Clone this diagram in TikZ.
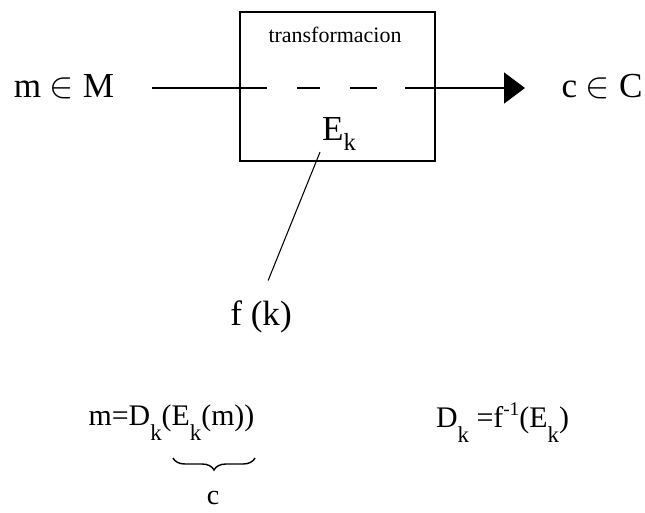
\documentclass[tikz,border=0pt]{standalone}
\usepackage{fontspec}
\setmainfont{Liberation Serif}
\usepackage{tikz}
\usetikzlibrary{arrows.meta, decorations.pathreplacing}
\newcommand{\lowtxt}[3]{\raisebox{-#1pt}{\fontsize{#2}{#2}\selectfont #3}}
\newcommand{\hightxt}[3]{\raisebox{#1pt}{\fontsize{#2}{#2}\selectfont #3}}

\begin{document}
\begin{tikzpicture}[
  font=\fontsize{20}{24}\selectfont,
  tbox/.style={draw, line width=1pt, minimum width=3.9cm, minimum height=2.98cm, inner sep=0pt},
  flow/.style={line width=1pt},
  lbl/.style={anchor=base, inner sep=1pt},
  eqn/.style={anchor=base, inner sep=0pt, font=\fontsize{17}{20}\selectfont}
]
\useasboundingbox (0,0) rectangle (12.9,-10.24);
\node[tbox] (trans) at (6.75,-1.73) {};
\node[lbl, font=\fontsize{12.5}{14}\selectfont] (tname) at (6.7,-0.84) {transformacion};
\node[lbl] (ek) at (6.78,-2.8) {E\lowtxt{5.7}{14}{k}};
\node[lbl] (msg) at (1.28,-1.94) {m $\in$ M};
\node[lbl] (cif) at (12.04,-1.94) {c $\in$ C};
\node[lbl] (fk) at (5.22,-6.5) {f (k)};
\coordinate (in) at (3.04,-1.76);
\coordinate (out) at (10.5,-1.76);
\draw[flow, dash pattern=on 2.3cm off 0.6cm on 0.46cm off 0.6cm on 0.54cm off 0.56cm on 3cm,
  -{Triangle[length=0.42cm, width=0.62cm]}] (in) -- (out);
\draw[line width=0.6pt, shorten >=0.38cm] (ek.south west) -- (fk.north);
\node[eqn] (dec) at (3.43,-8.5) {m=D\lowtxt{9}{13}{k}(E\lowtxt{9}{13}{k}(m))};
\node[eqn] (inv) at (10.05,-8.54) {D\lowtxt{9}{13}{k} =f\hightxt{6.8}{11}{-1}(E\lowtxt{9}{13}{k})};
\coordinate (brl) at (3.46,-9.16);
\coordinate (brr) at (5.1,-9.16);
\draw[line width=0.8pt, decorate, decoration={brace, mirror, amplitude=0.24cm}] (brl) -- (brr);
\node[lbl, inner sep=0pt, font=\fontsize{16}{18}\selectfont] (cc) at (4.26,-10.08) {c};
\end{tikzpicture}
\end{document}
